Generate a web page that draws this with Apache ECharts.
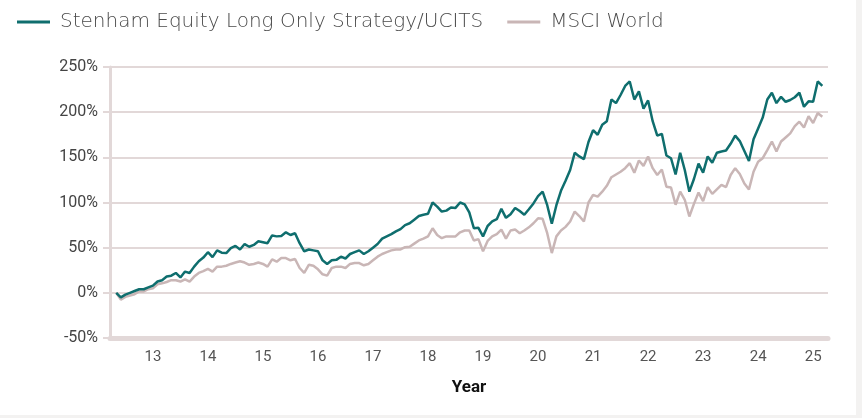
<!DOCTYPE html>
<html>
<head>
<meta charset="utf-8">
<script src="https://cdn.jsdelivr.net/npm/echarts@6/dist/echarts.min.js"></script>
<style>
html, body { margin: 0; padding: 0; background: #f3f2f1; }
#chart { width: 856px; height: 415px; background: #fff; }
</style>
</head>
<body>
<div id="chart"></div>
<script>
// monthly cumulative performance (%), first point = May 2012
var startYear = 2012;
var startMonth = 5;
var seriesNames = ['Stenham Equity Long Only Strategy/UCITS', 'MSCI World'];
var stenham = [
    0, -5, -2, 0, 2, 4, 4, 6, 8, 12.5, 14, 18,
    19, 22, 17, 23.5, 22, 29, 35, 39, 45, 39.5, 47, 44.5,
    44, 49.5, 52, 48, 54, 51, 53, 57, 56, 55, 63.5, 62.5,
    63, 67, 64, 66, 55, 46, 48, 47, 46, 36, 32, 36,
    36.5, 40, 38, 43, 45, 47, 43, 46, 50, 54, 60, 62.5,
    65, 68, 70.5, 75, 77, 81, 85, 86.5, 87.5, 100, 95.5, 90,
    91, 94.5, 94, 100, 98, 89, 71.5, 72, 62.5, 74, 79, 81.5,
    93, 83, 87, 94, 90.5, 86.5, 92.5, 99, 107, 112, 97, 76.5,
    97, 113, 124, 136, 155, 151, 148, 167, 180, 175, 186, 190,
    214, 210, 219, 229, 234, 214, 223, 204, 213, 190, 174, 176,
    152, 149, 131, 155, 136, 112, 126, 143, 133, 151, 144, 155,
    156.5, 157.5, 165, 174, 168, 157, 146, 170, 182, 194, 214, 221.5,
    210, 217, 211.5, 213.5, 216.5, 221.5, 206, 212, 211.5, 234, 229
];
var msci = [
    0, -7.5, -4.5, -3, -1.5, 1.5, 1.5, 4, 5, 9.5, 10.5, 12,
    14, 14, 12.5, 15, 12.5, 18, 22, 24, 26.5, 23.5, 29, 29,
    30, 32, 33.5, 35, 33.5, 31, 32, 33.5, 32, 29, 37, 34.5,
    38.5, 38.5, 36, 37.5, 27.5, 22, 31, 30, 26, 20.5, 19, 27.5,
    29, 29, 27.5, 32, 33, 33, 30.5, 32, 36, 40, 43, 45,
    47, 48, 48, 50.5, 51, 54.5, 58, 60, 62.5, 71.5, 64, 60.5,
    62.5, 62.5, 62.5, 67, 69, 69, 58, 59.5, 46, 57.5, 62.5, 65,
    70, 60, 69, 70, 66, 69, 72.5, 77, 82.5, 82, 66, 44,
    62.5, 69, 73, 79, 90, 85, 79, 100, 108.5, 106.5, 112, 118.5,
    128, 131, 134, 138, 143.5, 133, 146.5, 140.5, 151, 138, 130.5, 136.5,
    117.5, 116.5, 97.5, 112, 103, 84.5, 98.5, 111, 101.5, 117, 109.5, 114.5,
    119.5, 117, 130.5, 138, 131.5, 121, 114.5, 134, 145, 149, 158, 167.5,
    156.5, 167.5, 172, 176.5, 184.5, 189.5, 183, 195.5, 188, 199, 195
];
var yearTicks = [2013, 2014, 2015, 2016, 2017, 2018, 2019, 2020, 2021, 2022, 2023, 2024, 2025];

function toPoints(values) {
    var pts = [];
    for (var i = 0; i < values.length; i++) {
        pts.push([startYear + (startMonth - 1 + i) / 12, values[i]]);
    }
    return pts;
}

var gridColor = '#e2d8d8';
var labelFont = 'Roboto';

var option = {
    animation: false,
    color: ['#0f6e6e', '#c9b6b6'],
    legend: {
        left: 12,
        top: 7,
        itemWidth: 33,
        itemHeight: 3,
        itemGap: 24,
        icon: 'rect',
        textStyle: {
            fontFamily: 'DejaVu Sans',
            fontWeight: 200,
            fontSize: 20,
            color: '#4a4a4a',
            padding: [0, 0, 0, 5]
        },
        data: seriesNames
    },
    grid: {
        left: 110,
        right: 28,
        top: 67,
        bottom: 77
    },
    xAxis: {
        type: 'value',
        min: 2012.22,
        max: 2025.27,
        name: 'Year',
        nameLocation: 'middle',
        nameGap: 41,
        nameTextStyle: {
            fontFamily: labelFont,
            fontSize: 17,
            fontWeight: 'bold',
            color: '#111'
        },
        axisLine: {
            onZero: false,
            lineStyle: { color: gridColor, width: 5 }
        },
        axisTick: { show: false },
        splitLine: { show: false },
        axisLabel: {
            customValues: yearTicks,
            margin: 12,
            fontFamily: labelFont,
            fontSize: 15,
            color: '#555',
            formatter: function (v) {
                return String(Math.round(v)).slice(2);
            }
        }
    },
    yAxis: {
        type: 'value',
        min: -50,
        max: 250,
        interval: 50,
        axisLine: {
            show: true,
            lineStyle: { color: gridColor, width: 3 }
        },
        axisTick: {
            show: true,
            length: 7,
            lineStyle: { color: gridColor, width: 2 }
        },
        splitLine: {
            lineStyle: { color: gridColor, width: 2 }
        },
        axisLabel: {
            margin: 12,
            fontFamily: labelFont,
            fontSize: 16,
            color: '#444',
            formatter: '{value}%'
        }
    },
    series: [
        {
            name: seriesNames[0],
            type: 'line',
            z: 3,
            showSymbol: false,
            symbol: 'none',
            lineStyle: { width: 2.5 },
            data: toPoints(stenham)
        },
        {
            name: seriesNames[1],
            type: 'line',
            z: 2,
            showSymbol: false,
            symbol: 'none',
            lineStyle: { width: 2.5 },
            data: toPoints(msci)
        }
    ]
};

var chart = echarts.init(document.getElementById('chart'));
chart.setOption(option);
window.addEventListener('resize', function () {
    chart.resize();
});
</script>
</body>
</html>
